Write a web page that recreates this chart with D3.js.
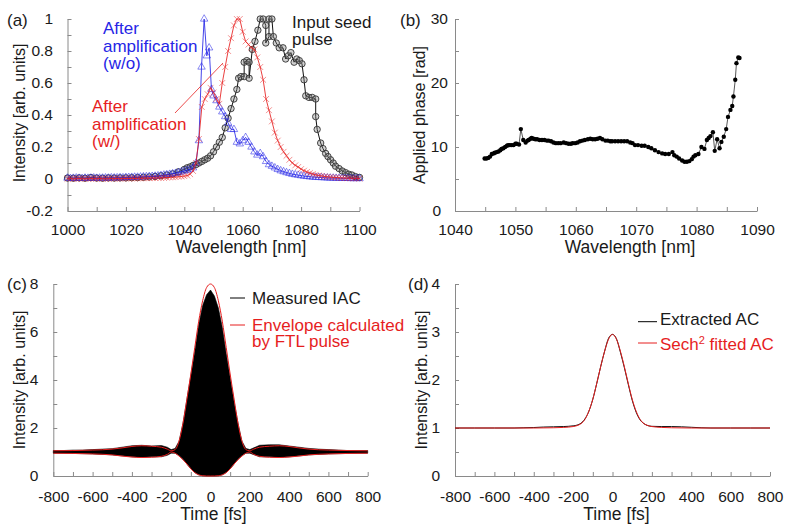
<!DOCTYPE html>
<html><head><meta charset="utf-8">
<script src="https://cdn.jsdelivr.net/npm/d3@7"></script>
<style>
body{margin:0;background:#fff}
text{font-family:Arial,"Liberation Sans",sans-serif;fill:#1a1a1a}
</style>
</head><body>
<svg id="chart" width="790" height="532"></svg>
<script>
// ---------- Panel (a) data: [wavelength nm, intensity] ----------
const seedPulse = [
[1000,0.006],[1002,0.005],[1004,0.007],[1006,0.005],[1008,0.009],[1010,0.006],[1012,0.005],[1014,0.007],[1016,0.006],[1018,0.007],
[1020,0.007],[1022,0.008],[1024,0.009],[1026,0.011],[1028,0.013],[1030,0.016],[1032,0.02],[1034,0.025],[1036,0.032],[1038,0.045],
[1040,0.06],[1041,0.07],[1042,0.076],[1043,0.085],[1044,0.09],[1045,0.1],[1046,0.11],[1047,0.12],[1048,0.13],[1049,0.145],
[1050,0.17],[1051,0.2],[1052,0.23],[1053,0.26],[1054,0.32],[1055,0.38],[1056,0.44],[1057,0.5],[1058,0.56],[1058.6,0.63],
[1059.4,0.64],[1060.5,0.64],[1060.5,0.73],[1061.4,0.74],[1062.2,0.73],[1062.2,0.63],[1063.3,0.81],[1064.2,0.86],[1065.2,0.93],[1066,1.0],
[1067,1.0],[1067.9,0.96],[1067.9,0.85],[1069,0.89],[1069,1.0],[1070,1.0],[1070.5,0.89],[1071.5,0.85],[1072.5,0.82],[1073.8,0.82],
[1074.7,0.75],[1075.6,0.77],[1076.5,0.79],[1077.6,0.73],[1078.5,0.75],[1079.4,0.74],[1080.3,0.72],[1081,0.62],[1081.6,0.52],[1082.7,0.51],
[1083.8,0.51],[1085,0.5],[1085,0.39],[1085.5,0.31],[1086.7,0.225],[1087.5,0.19],[1088.4,0.16],[1089.2,0.14],[1090.1,0.12],[1091,0.1],
[1091.8,0.08],[1093,0.065],[1094.1,0.05],[1095.2,0.04],[1096.3,0.03],[1097.4,0.025],[1098.6,0.015],[1100,0.01]
];
const ampWithout = [
[1000,0.006],[1001,0.004],[1002,0.005],[1003,0.007],[1004,0.005],[1005,0.004],[1006,0.006],[1007,0.005],[1008,0.006],[1009,0.007],
[1010,0.005],[1011,0.006],[1012,0.006],[1013,0.007],[1014,0.006],[1015,0.008],[1016,0.007],[1017,0.008],[1018,0.009],[1019,0.008],
[1020,0.01],[1021,0.01],[1022,0.011],[1023,0.012],[1024,0.012],[1025,0.013],[1026,0.014],[1027,0.015],[1028,0.016],[1029,0.017],
[1030,0.018],[1031,0.02],[1032,0.022],[1033,0.025],[1034,0.027],[1035,0.03],[1036,0.033],[1037,0.036],[1038,0.04],[1039,0.045],
[1040,0.05],[1041,0.055],[1042,0.06],[1043,0.07],[1044,0.1],[1045,0.24],[1045.9,0.7],[1046.8,1.0],[1047.7,0.77],[1048.5,0.82],
[1049.3,0.56],[1050,0.52],[1051,0.49],[1052,0.45],[1053,0.42],[1054,0.39],[1055,0.35],[1056,0.31],[1057,0.31],[1058,0.23],
[1059,0.22],[1060,0.24],[1061,0.26],[1062,0.23],[1063,0.2],[1064,0.17],[1065,0.15],[1066,0.16],[1067,0.14],[1068,0.11],
[1069,0.09],[1070,0.08],[1071,0.07],[1072,0.06],[1073,0.052],[1074,0.046],[1075,0.04],[1076,0.035],[1077,0.03],[1078,0.027],
[1079,0.024],[1080,0.021],[1081,0.018],[1082,0.016],[1083,0.014],[1084,0.012],[1085,0.011],[1086,0.01],[1087,0.009],[1088,0.008],
[1089,0.007],[1090,0.006],[1091,0.006],[1092,0.005],[1093,0.005],[1094,0.004],[1095,0.004],[1096,0.004],[1097,0.003],[1098,0.003],
[1099,0.003],[1100,0.003]
];
const ampWith = [
[1000,0.002],[1001,0.003],[1002,0.001],[1003,0.002],[1004,0.003],[1005,0.002],[1006,0.001],[1007,0.002],[1008,0.003],[1009,0.002],
[1010,0.002],[1011,0.003],[1012,0.002],[1013,0.001],[1014,0.002],[1015,0.003],[1016,0.002],[1017,0.003],[1018,0.002],[1019,0.003],
[1020,0.003],[1021,0.003],[1022,0.004],[1023,0.003],[1024,0.004],[1025,0.004],[1026,0.005],[1027,0.005],[1028,0.005],[1029,0.006],
[1030,0.006],[1031,0.007],[1032,0.007],[1033,0.008],[1034,0.009],[1035,0.01],[1036,0.011],[1037,0.012],[1038,0.014],[1039,0.016],
[1040,0.018],[1041,0.022],[1042,0.03],[1043,0.05],[1044,0.1],[1045,0.25],[1046,0.45],[1047,0.5],[1048,0.53],[1049,0.57],
[1050,0.54],[1051,0.5],[1052,0.47],[1053,0.6],[1054,0.7],[1055,0.8],[1056,0.88],[1057,0.96],[1058,1.0],[1059,1.0],
[1060,0.92],[1061,0.86],[1062,0.84],[1063,0.82],[1064,0.81],[1065,0.76],[1066,0.7],[1067,0.62],[1068,0.5],[1069,0.43],
[1070,0.36],[1071,0.29],[1072,0.24],[1073,0.2],[1074,0.17],[1075,0.145],[1076,0.12],[1077,0.1],[1078,0.085],[1079,0.075],
[1080,0.062],[1081,0.052],[1082,0.044],[1083,0.037],[1084,0.031],[1085,0.026],[1086,0.022],[1087,0.019],[1088,0.016],[1089,0.014],
[1090,0.012],[1091,0.01],[1092,0.009],[1093,0.008],[1094,0.007],[1095,0.006],[1096,0.005],[1097,0.005],[1098,0.004],[1099,0.004],
[1100,0.003]
];
const aXTicks = [1000,1010,1020,1030,1040,1050,1060,1070,1080,1090,1100];
const aXLabels = ["1000","","1020","","1040","","1060","","1080","","1100"];
const aYTicks = [-0.2,-0.1,0,0.1,0.2,0.3,0.4,0.5,0.6,0.7,0.8,0.9,1];
const aYLabels = ["-0.2","","0","","0.2","","0.4","","0.6","","0.8","","1"];

// ---------- Panel (b) data: [wavelength nm, phase rad] ----------
const appliedPhase = [
[1044.9,8.2],[1045.2,8.2],[1045.5,8.3],[1045.8,8.5],[1046.1,8.9],[1046.4,9.0],[1046.6,9.1],[1046.9,9.2],[1047.2,9.3],[1047.5,9.5],
[1047.7,9.7],[1048,9.8],[1048.3,10.0],[1048.6,10.2],[1048.8,10.3],[1049.1,10.3],[1049.4,10.3],[1049.7,10.3],[1050,10.5],[1050.2,10.5],
[1050.6,10.4],[1050.9,12.8],[1051.3,11.1],[1051.7,10.7],[1052,11.0],[1052.2,11.1],[1052.5,11.3],[1052.7,11.4],[1053,11.3],[1053.3,11.2],
[1053.6,11.2],[1054,11.1],[1054.4,11.1],[1054.8,11.1],[1055.2,11.0],[1055.5,11.0],[1055.9,10.9],[1056.3,10.7],[1056.7,10.6],[1057.1,10.6],
[1057.5,10.6],[1058,10.7],[1058.4,10.6],[1058.8,10.5],[1059.2,10.5],[1059.5,10.6],[1059.9,10.6],[1060.3,10.7],[1060.7,10.9],[1061.1,11.0],
[1061.5,11.1],[1062,11.2],[1062.4,11.3],[1062.8,11.2],[1063.2,11.2],[1063.6,11.3],[1064,11.4],[1064.4,11.2],[1064.9,11.0],[1065.3,11.0],
[1065.7,10.9],[1066,10.9],[1066.5,10.9],[1067,10.9],[1067.5,10.9],[1068,10.9],[1068.5,10.9],[1069,10.7],[1069.4,10.6],[1069.8,10.3],
[1070.3,10.3],[1070.9,10.2],[1071.4,10.2],[1072,10.0],[1072.5,9.8],[1073.1,9.5],[1073.7,9.2],[1074.3,9.0],[1074.8,8.9],[1075.4,8.9],
[1076,9.2],[1076.3,8.7],[1076.7,8.5],[1077.1,8.2],[1077.6,7.9],[1078,7.7],[1078.4,7.7],[1078.8,7.8],[1079.2,8.1],[1079.5,8.5],
[1079.8,8.7],[1080.3,8.9],[1080.8,10.0],[1081.3,9.7],[1081.7,11.1],[1082,11.4],[1082.3,11.7],[1082.7,12.3],[1083,9.4],[1083.4,11.2],
[1083.8,9.8],[1084.1,10.8],[1084.5,11.6],[1084.9,12.8],[1085.2,14.7],[1085.6,15.8],[1085.9,16.4],[1086.1,17.9],[1086.4,20.5],[1086.6,23.1],
[1086.9,24.0],[1087.1,23.9]
];
const bXTicks = [1040,1045,1050,1055,1060,1065,1070,1075,1080,1085,1090];
const bXLabels = ["1040","","1050","","1060","","1070","","1080","","1090"];
const bYTicks = [0,5,10,15,20,25,30];
const bYLabels = ["0","","10","","20","","30"];

// ---------- Panel (c) data: [time fs, intensity] ----------
const iacUpper = [
[-800,1.06],[-750,1.06],[-700,1.08],[-650,1.08],[-600,1.1],[-550,1.12],[-500,1.14],[-450,1.2],[-400,1.26],[-350,1.28],
[-300,1.25],[-250,1.27],[-220,1.2],[-200,1.1],[-180,1.15],[-160,1.45],[-140,2.2],[-120,3.2],[-100,4.2],[-80,5.2],
[-60,6.3],[-40,7.1],[-20,7.55],[0,7.75],[20,7.5],[40,7.0],[60,6.2],[80,5.1],[100,4.1],[120,3.1],
[140,2.2],[160,1.45],[180,1.15],[200,1.1],[250,1.28],[300,1.3],[350,1.3],[400,1.25],[450,1.2],[500,1.15],
[550,1.12],[600,1.1],[650,1.08],[700,1.06],[750,1.06],[800,1.06]
];
const iacLower = [
[-800,0.95],[-700,0.94],[-600,0.92],[-500,0.88],[-450,0.84],[-400,0.8],[-350,0.78],[-300,0.8],[-250,0.8],[-220,0.86],
[-200,0.95],[-180,0.95],[-160,0.85],[-140,0.7],[-120,0.5],[-100,0.3],[-80,0.15],[-60,0.05],[-40,0.01],[-20,0],
[0,0],[20,0],[40,0.01],[60,0.05],[80,0.15],[100,0.3],[120,0.5],[140,0.7],[160,0.85],[180,0.95],
[200,0.95],[220,0.86],[250,0.8],[300,0.8],[350,0.78],[400,0.8],[450,0.84],[500,0.88],[600,0.92],[700,0.94],[800,0.95]
];
const ftlUpper = [
[-800,1.05],[-700,1.06],[-600,1.08],[-500,1.12],[-450,1.17],[-400,1.23],[-350,1.26],[-300,1.24],[-250,1.2],[-220,1.12],
[-200,1.05],[-180,1.1],[-160,1.45],[-140,2.2],[-120,3.2],[-100,4.25],[-80,5.35],[-60,6.45],[-40,7.3],[-20,7.85],
[0,8.0],[20,7.85],[40,7.3],[60,6.45],[80,5.35],[100,4.25],[120,3.2],[140,2.2],[160,1.45],[180,1.1],
[200,1.05],[220,1.12],[250,1.2],[300,1.24],[350,1.26],[400,1.23],[450,1.17],[500,1.12],[600,1.08],[700,1.06],[800,1.05]
];
const ftlLower = [
[-800,0.95],[-700,0.94],[-600,0.92],[-500,0.88],[-450,0.83],[-400,0.79],[-350,0.77],[-300,0.78],[-250,0.82],[-220,0.9],
[-200,1.0],[-180,0.95],[-160,0.83],[-140,0.68],[-120,0.5],[-100,0.3],[-80,0.14],[-60,0.05],[-40,0.01],[-20,0],
[0,0],[20,0],[40,0.01],[60,0.05],[80,0.14],[100,0.3],[120,0.5],[140,0.68],[160,0.83],[180,0.95],
[200,1.0],[220,0.9],[250,0.82],[300,0.78],[350,0.77],[400,0.79],[450,0.83],[500,0.88],[600,0.92],[700,0.94],[800,0.95]
];
const cXTicks = [-800,-700,-600,-500,-400,-300,-200,-100,0,100,200,300,400,500,600,700,800];
const cXLabels = ["-800","","-600","","-400","","-200","","0","","200","","400","","600","","800"];
const cYTicks = [0,1,2,3,4,5,6,7,8];
const cYLabels = ["0","","2","","4","","6","","8"];

// ---------- Panel (d) data: [time fs, intensity] ----------
const extractedAC = [
[-800,1.0],[-700,1.0],[-600,1.0],[-500,1.0],[-450,1.005],[-400,1.01],[-350,1.02],[-300,1.025],[-250,1.03],[-200,1.045],
[-180,1.06],[-160,1.1],[-140,1.19],[-120,1.35],[-100,1.6],[-80,1.93],[-60,2.28],[-40,2.6],[-20,2.87],[0,2.95],
[20,2.86],[40,2.58],[60,2.26],[80,1.91],[100,1.58],[120,1.33],[140,1.17],[160,1.09],[180,1.05],[200,1.035],
[250,1.03],[300,1.03],[350,1.025],[400,1.015],[450,1.005],[500,1.0],[600,1.0],[700,1.0],[800,1.0]
];
const sechFitAC = [
[-800,1.0],[-700,1.0],[-600,1.0],[-500,1.0],[-400,1.0],[-300,1.005],[-250,1.012],[-200,1.03],[-180,1.05],[-160,1.09],
[-140,1.18],[-120,1.35],[-100,1.6],[-80,1.93],[-60,2.28],[-40,2.6],[-20,2.85],[0,2.95],[20,2.85],[40,2.6],
[60,2.28],[80,1.93],[100,1.6],[120,1.35],[140,1.18],[160,1.09],[180,1.05],[200,1.03],[250,1.012],[300,1.005],
[400,1.0],[500,1.0],[600,1.0],[700,1.0],[800,1.0]
];
const dXTicks = cXTicks;
const dXLabels = cXLabels;
const dYTicks = [0,0.5,1,1.5,2,2.5,3,3.5,4];
const dYLabels = ["0","","1","","2","","3","","4"];

// ---------- drawing ----------
const svg = d3.select("#chart");
svg.append("rect").attr("width",790).attr("height",532).attr("fill","#fff");
const AX = "#8a8a8a";
const BLUE = "#2626e6", RED = "#e61e1e";

function axes(x, y, xt, xl, yt, yl, xpad, ypad){
  const gx = svg.append("g").attr("transform",`translate(0,${y.range()[0]})`)
    .call(d3.axisBottom(x).tickValues(xt).tickSizeInner(-4).tickSizeOuter(0).tickPadding(xpad)
      .tickFormat((d,i)=>xl[i]));
  const gy = svg.append("g").attr("transform",`translate(${x.range()[0]},0)`)
    .call(d3.axisLeft(y).tickValues(yt).tickSizeInner(-4).tickSizeOuter(0).tickPadding(ypad)
      .tickFormat((d,i)=>yl[i]));
  [gx,gy].forEach(g=>{
    g.selectAll("path.domain").attr("stroke",AX).attr("stroke-width",1);
    g.selectAll(".tick line").attr("stroke",AX).attr("stroke-width",1);
    g.selectAll(".tick text").attr("font-size",15.5).attr("fill","#1a1a1a")
      .attr("font-family","Arial,'Liberation Sans',sans-serif");
  });
  gx.selectAll(".tick text").attr("dy","0.71em");
  return {gx,gy};
}
function label(t,x,y,size,opt={}){
  const el = svg.append("text").attr("x",x).attr("y",y).attr("font-size",size).text(t);
  if(opt.anchor) el.attr("text-anchor",opt.anchor);
  if(opt.rot) el.attr("transform",`rotate(-90,${x},${y})`);
  if(opt.fill) el.style("fill",opt.fill);
  return el;
}

// ===== Panel (a) =====
{
  const x = d3.scaleLinear().domain([1000,1100]).range([67.5,359.5]);
  const y = d3.scaleLinear().domain([-0.2,1]).range([211,19]);
  axes(x,y,aXTicks,aXLabels,aYTicks,aYLabels,13,14.5);
  const line = d3.line().x(d=>x(d[0])).y(d=>y(d[1]));
  const g = svg.append("g");
  g.append("path").datum(seedPulse).attr("d",line).attr("fill","none").attr("stroke","#111").attr("stroke-width",1);
  g.selectAll("circle.s").data(seedPulse).join("circle").attr("cx",d=>x(d[0])).attr("cy",d=>y(d[1])).attr("r",3.2)
    .attr("fill","rgba(120,120,120,0.35)").attr("stroke","#333").attr("stroke-width",0.9);
  g.append("path").datum(ampWithout).attr("d",line).attr("fill","none").attr("stroke",BLUE).attr("stroke-opacity",0.85).attr("stroke-width",1);
  const tri = d3.symbol().type(d3.symbolTriangle).size(24);
  g.selectAll("path.b").data(ampWithout).join("path").attr("d",tri)
    .attr("transform",d=>`translate(${x(d[0])},${y(d[1])})`).attr("fill","none").attr("stroke",BLUE).attr("stroke-opacity",0.6).attr("stroke-width",0.9);
  g.append("path").datum(ampWith).attr("d",line).attr("fill","none").attr("stroke",RED).attr("stroke-opacity",0.85).attr("stroke-width",1);
  const cross = d3.symbol().type(d3.symbolTimes).size(24);
  g.selectAll("path.r").data(ampWith).join("path").attr("d",cross)
    .attr("transform",d=>`translate(${x(d[0])},${y(d[1])})`).attr("fill","none").attr("stroke",RED).attr("stroke-opacity",0.55).attr("stroke-width",0.9);

  label("(a)",7,26,17);
  label("Intensity [arb. units]",24.5,113,16,{anchor:"middle",rot:true});
  label("Wavelength [nm]",241,253,17.5,{anchor:"middle"});
  ["After","amplification","(w/o)"].forEach((t,i)=>label(t,103,34+i*17.5,17,{fill:BLUE}));
  ["After","amplification","(w/)"].forEach((t,i)=>label(t,92,112+i*17.5,17,{fill:RED}));
  ["Input seed","pulse"].forEach((t,i)=>label(t,292,28+i*17,17));
  svg.append("line").attr("x1",175).attr("y1",113).attr("x2",223).attr("y2",63).attr("stroke",RED).attr("stroke-width",0.8);
}

// ===== Panel (b) =====
{
  const x = d3.scaleLinear().domain([1040,1090]).range([455,757]);
  const y = d3.scaleLinear().domain([0,30]).range([211,19]);
  const a = axes(x,y,bXTicks,bXLabels,bYTicks,bYLabels,13,7);
  a.gy.selectAll(".tick text").filter(d=>d===0).attr("x",-14);
  const line = d3.line().x(d=>x(d[0])).y(d=>y(d[1]));
  svg.append("path").datum(appliedPhase).attr("d",line).attr("fill","none").attr("stroke","#444").attr("stroke-width",0.9);
  svg.selectAll("circle.p").data(appliedPhase).join("circle").attr("cx",d=>x(d[0])).attr("cy",d=>y(d[1])).attr("r",2.2).attr("fill","#000");
  label("(b)",400,26,17);
  label("Applied phase [rad]",425,115,16,{anchor:"middle",rot:true});
  label("Wavelength [nm]",630,252.5,17.5,{anchor:"middle"});
}

// ===== Panel (c) =====
{
  const x = d3.scaleLinear().domain([-800,800]).range([53.3,367.7]);
  const y = d3.scaleLinear().domain([0,8]).range([476,284]);
  axes(x,y,cXTicks,cXLabels,cYTicks,cYLabels,15,15);
  const lowI = d3.scaleLinear().domain(iacLower.map(d=>d[0])).range(iacLower.map(d=>d[1]));
  const area = d3.area().x(d=>x(d[0])).y1(d=>y(d[1])).y0(d=>y(lowI(d[0])));
  svg.append("path").datum(iacUpper).attr("d",area).attr("fill","#000").attr("stroke","#000").attr("stroke-width",0.6);
  const line = d3.line().x(d=>x(d[0])).y(d=>y(d[1])).curve(d3.curveMonotoneX);
  [ftlUpper,ftlLower].forEach(s=>svg.append("path").datum(s).attr("d",line).attr("fill","none").attr("stroke",RED).attr("stroke-width",1));
  label("(c)",7,290,17);
  label("Intensity [arb. units]",24.5,380,16,{anchor:"middle",rot:true});
  label("Time [fs]",213.5,520,17.5,{anchor:"middle"});
  svg.append("line").attr("x1",230).attr("x2",245).attr("y1",298).attr("y2",298).attr("stroke","#000");
  label("Measured IAC",252,304,17);
  svg.append("line").attr("x1",230).attr("x2",245).attr("y1",325).attr("y2",325).attr("stroke",RED);
  label("Envelope calculated",252,330.5,17,{fill:RED});
  label("by FTL pulse",252,346.5,17,{fill:RED});
}

// ===== Panel (d) =====
{
  const x = d3.scaleLinear().domain([-800,800]).range([455,770]);
  const y = d3.scaleLinear().domain([0,4]).range([476,284]);
  axes(x,y,dXTicks,dXLabels,dYTicks,dYLabels,15,15);
  const line = d3.line().x(d=>x(d[0])).y(d=>y(d[1])).curve(d3.curveMonotoneX);
  svg.append("path").datum(extractedAC).attr("d",line).attr("fill","none").attr("stroke","#111").attr("stroke-width",1);
  svg.append("path").datum(sechFitAC).attr("d",line).attr("fill","none").attr("stroke",RED).attr("stroke-width",1);
  label("(d)",408,290,17);
  label("Intensity [arb. units]",427,380,16,{anchor:"middle",rot:true});
  label("Time [fs]",616.5,520,17.5,{anchor:"middle"});
  svg.append("line").attr("x1",638).attr("x2",657).attr("y1",321.7).attr("y2",321.7).attr("stroke","#000");
  label("Extracted AC",660,325,17);
  svg.append("line").attr("x1",638).attr("x2",657).attr("y1",343).attr("y2",343).attr("stroke",RED);
  const t = label("Sech",660,350,17,{fill:RED});
  t.append("tspan").attr("dy",-6).attr("font-size",11).text("2");
  t.append("tspan").attr("dy",6).text(" fitted AC");
}
</script>
</body></html>
